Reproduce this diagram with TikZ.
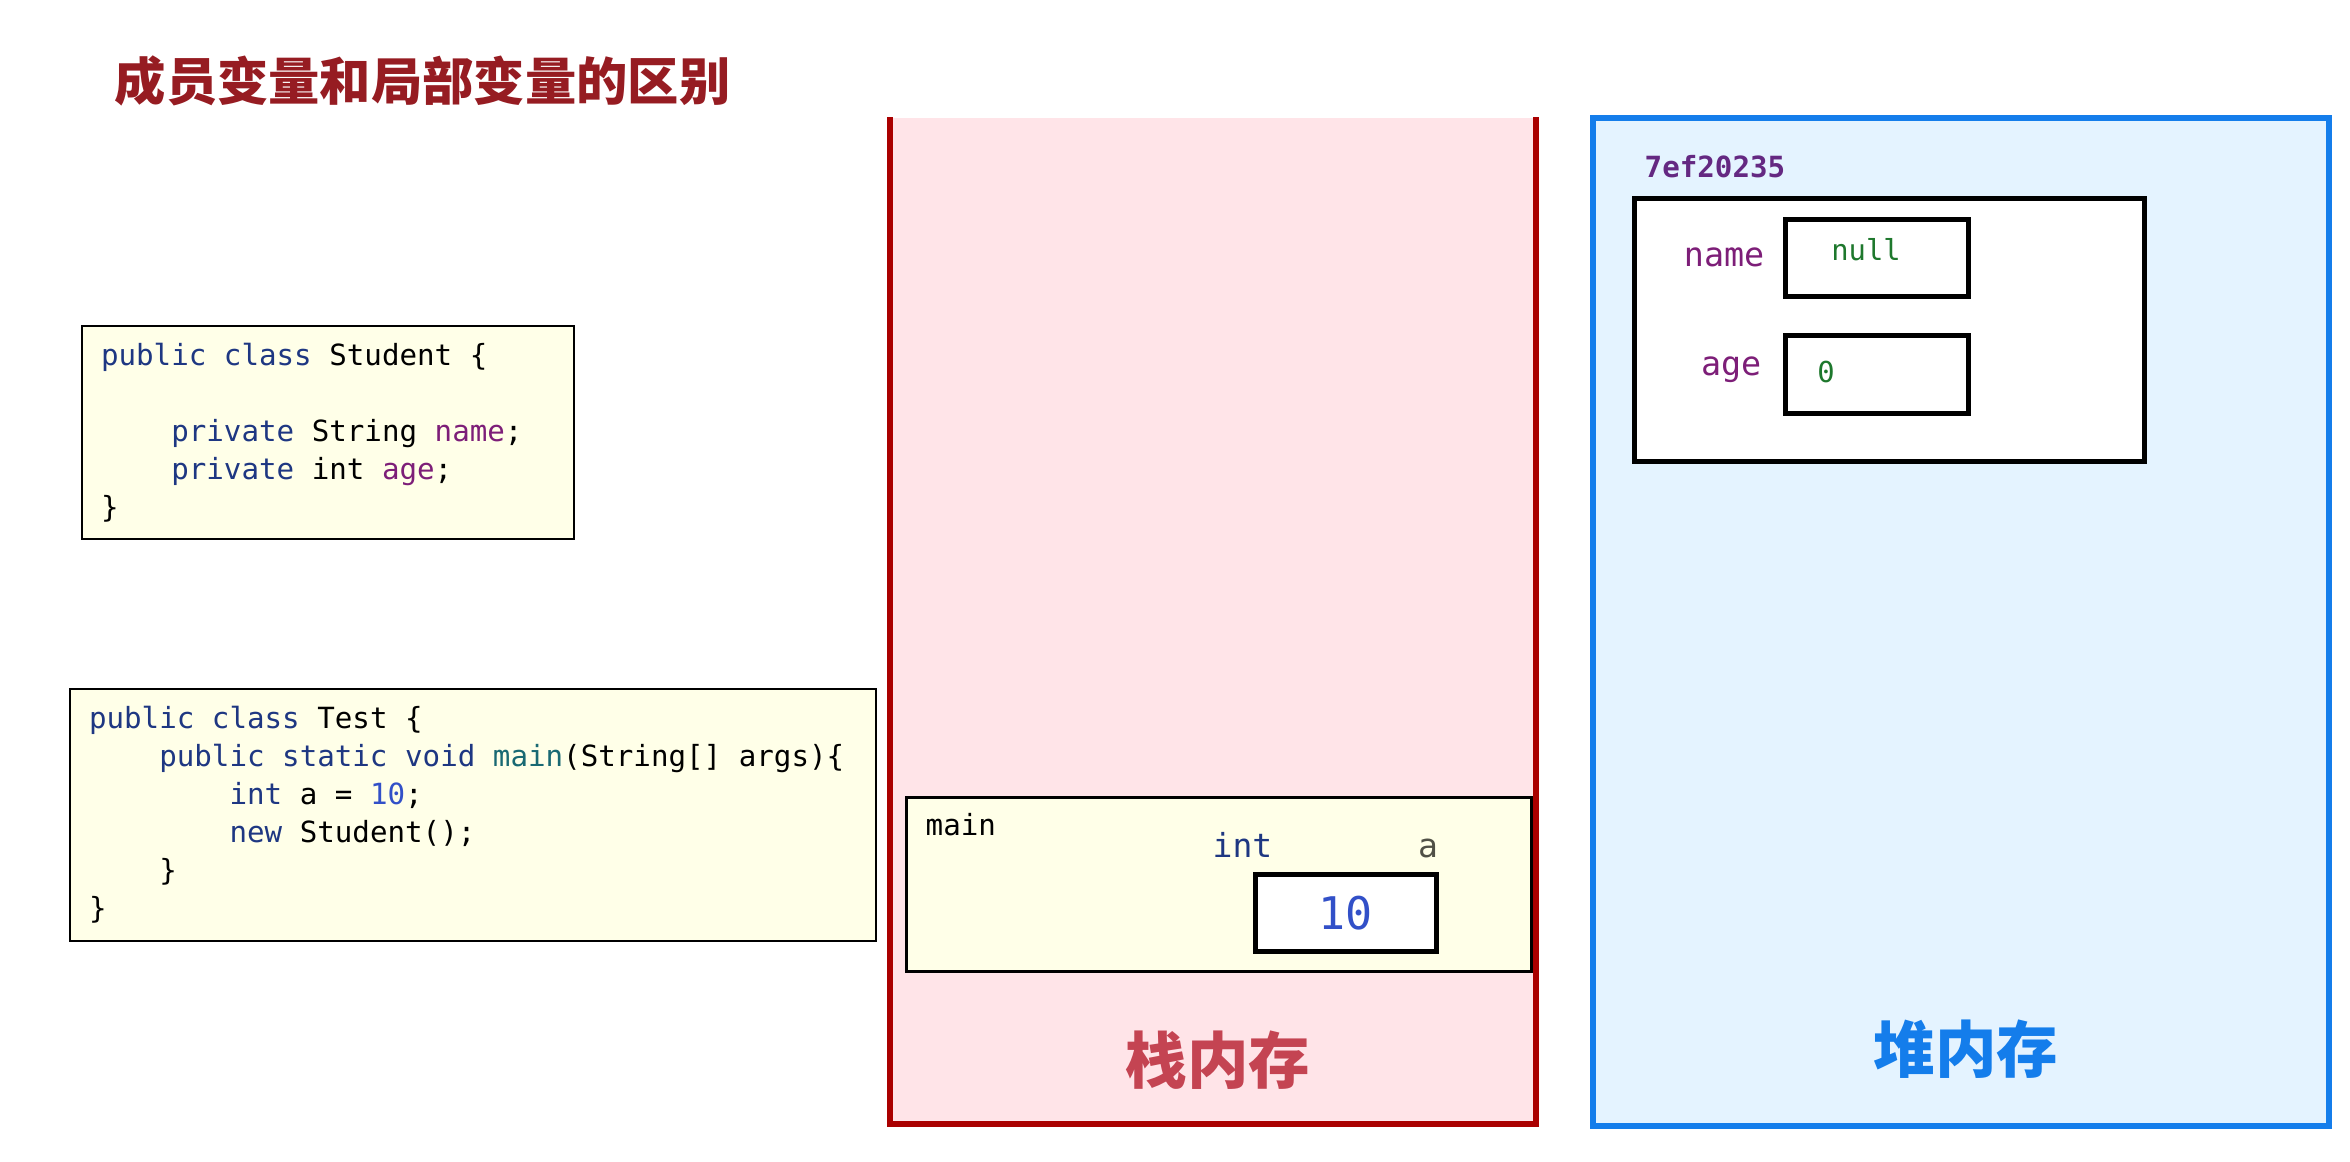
\documentclass[tikz,border=0pt]{standalone}
\usepackage{fontspec}
\setmonofont{DejaVu Sans Mono}
\newfontfamily\cjk{Noto Sans CJK SC}
\usetikzlibrary{positioning}
\definecolor{titlered}{RGB}{150,28,34}
\definecolor{stackred}{RGB}{170,0,0}
\definecolor{stackpink}{RGB}{255,228,232}
\definecolor{stacktext}{RGB}{196,68,82}
\definecolor{heapblue}{RGB}{20,125,235}
\definecolor{heapfill}{RGB}{228,243,255}
\definecolor{codeyellow}{RGB}{255,255,232}
\definecolor{kwblue}{RGB}{30,55,130}
\definecolor{fieldpurple}{RGB}{125,30,120}
\definecolor{fnteal}{RGB}{25,105,115}
\definecolor{numblue}{RGB}{50,80,200}
\definecolor{valgreen}{RGB}{30,120,45}
\definecolor{addrpurple}{RGB}{100,40,130}
\definecolor{namegray}{RGB}{80,80,70}
\newcommand\kw[1]{\textcolor{kwblue}{#1}}
\newcommand\fld[1]{\textcolor{fieldpurple}{#1}}
\newcommand\codeindent{\hspace*{2.408em}}

\begin{document}
\begin{tikzpicture}[x=0.1mm,y=-0.1mm,inner sep=0pt,
    code/.style={draw=black,line width=0.6pt,fill=codeyellow,anchor=north west,
      align=left,inner xsep=1.9mm,font=\ttfamily\fontsize{8.3}{10.8}\selectfont,
      execute at begin node={\spaceskip=0.602em\xspaceskip=0.602em\relax}},
    cell/.style={draw=black,line width=1.3pt,fill=white,anchor=north west},
    memlabel/.style={font=\cjk\bfseries\fontsize{17.5}{20}\selectfont},
    mono/.style={font=\ttfamily\fontsize{#1}{#1}\selectfont}]
  \useasboundingbox (0,0) rectangle (2350,1161);
  \node[font=\cjk\bfseries\fontsize{14.6}{16}\selectfont,text=titlered,anchor=west] (title) at (114,81) {成员变量和局部变量的区别};

  \node[code,text width=45.4mm,minimum height=21.3mm] (student) at (81,325)
    {\kw{public class} Student \{\\ \mbox{}\\
     \codeindent\kw{private} String \fld{name};\\
     \codeindent\kw{private} int \fld{age};\\
     \}};
  \node[code,text width=76.8mm,minimum height=25.2mm] (test) at (69,688)
    {\kw{public class} Test \{\\
     \codeindent\kw{public static void} \textcolor{fnteal}{main}(String[] args)\{\\
     \codeindent\codeindent\kw{int} a = \textcolor{numblue}{10};\\
     \codeindent\codeindent\kw{new} Student();\\
     \codeindent\}\\
     \}};

  \node[fill=stackpink,minimum width=64.5mm,minimum height=100.6mm,anchor=north west] (stack) at (890,117) {};
  \draw[stackred,line width=1.7pt] (stack.north west) |- (stack.south east) -- (stack.north east);
  \node[draw=black,line width=0.8pt,fill=codeyellow,minimum width=62.5mm,minimum height=17.4mm,anchor=north west] (mainframe) at (905,796) {};
  \node[mono=8.3,anchor=base west] (mainname) at (925,835) {main};
  \node[cell,minimum width=18.1mm,minimum height=7.7mm] (aval) at (1253,872) {};
  \node[mono=12.8,text=numblue] (aten) at (aval) {10};
  \node[mono=9.4,text=kwblue,anchor=base west] (atype) at (1212,857) {int};
  \node[mono=9.4,text=namegray,anchor=base] (aname) at (1428,857) {a};
  \node[memlabel,text=stacktext] (stacklabel) at (1218,1060) {栈内存};

  \node[draw=heapblue,fill=heapfill,line width=1.7pt,minimum width=73.6mm,minimum height=100.8mm,anchor=north west] (heap) at (1590,115) {};
  \node[font=\ttfamily\bfseries\fontsize{8.3}{8.3}\selectfont,text=addrpurple,anchor=base west] (addr) at (1644,177) {7ef20235};
  \node[cell,minimum width=51mm,minimum height=26.3mm] (obj) at (1632,196) {};
  \node[cell,minimum width=18.3mm,minimum height=7.7mm] (namebox) at (1783,217) {};
  \node[cell,minimum width=18.3mm,minimum height=7.8mm] (agebox) at (1783,333) {};
  \node[mono=9.5,text=fieldpurple,left=1.8mm of namebox] (namelbl) {name};
  \node[mono=9.5,text=fieldpurple,left=2.1mm of agebox,yshift=0.5mm] (agelbl) {age};
  \node[mono=8.2,text=valgreen] (nameval) at (1866,250) {null};
  \node[mono=8.2,text=valgreen] (ageval) at (1826,372) {0};
  \node[memlabel,text=heapblue] (heaplabel) at (1966,1049) {堆内存};
\end{tikzpicture}
\end{document}
